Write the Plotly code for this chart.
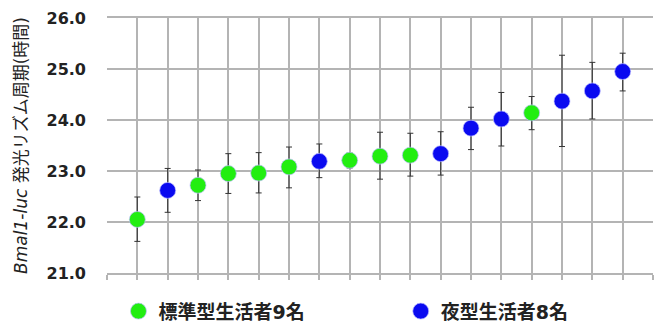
import plotly.graph_objects as go

# ---- data ----
rank = list(range(1, 18))
group = ["std", "night", "std", "std", "std", "std", "night", "std", "std",
         "std", "night", "night", "night", "std", "night", "night", "night"]
period = [22.05, 22.62, 22.72, 22.95, 22.96, 23.08, 23.19, 23.21, 23.29,
          23.31, 23.34, 23.84, 24.02, 24.14, 24.37, 24.57, 24.95]
err_plus = [0.44, 0.43, 0.30, 0.39, 0.40, 0.39, 0.34, 0.14, 0.47,
            0.43, 0.43, 0.41, 0.52, 0.32, 0.90, 0.56, 0.36]
err_minus = [0.43, 0.43, 0.30, 0.39, 0.39, 0.41, 0.32, 0.15, 0.45,
             0.41, 0.42, 0.42, 0.53, 0.33, 0.89, 0.55, 0.38]

groups = [("std", "標準型生活者9名", "#22ee11", "legend"),
          ("night", "夜型生活者8名", "#0a0af0", "legend2")]
y_ticks = [21.0, 22.0, 23.0, 24.0, 25.0, 26.0]

FONT = "DejaVu Sans, Noto Sans CJK JP"

fig = go.Figure()
for key, name, color, leg in groups:
    idx = [i for i, g in enumerate(group) if g == key]
    fig.add_trace(go.Scatter(
        x=[rank[i] for i in idx],
        y=[period[i] for i in idx],
        mode="markers",
        name=f"<b>{name}</b>",
        legend=leg,
        marker=dict(size=16, color=color, line=dict(color="rgba(190,190,255,0.7)", width=1)),
        error_y=dict(type="data", symmetric=False,
                     array=[err_plus[i] for i in idx],
                     arrayminus=[err_minus[i] for i in idx],
                     color="#333333", thickness=1, width=3),
    ))

leg_common = dict(orientation="h", y=-0.15, yanchor="middle",
                  font=dict(size=19, family=FONT, color="#222222"),
                  itemsizing="trace", bgcolor="rgba(0,0,0,0)")

fig.update_layout(
    width=656, height=327,
    margin=dict(l=107, r=3, t=18, b=54, autoexpand=False),
    paper_bgcolor="white", plot_bgcolor="white",
    font=dict(family=FONT, color="#222222"),
    showlegend=True,
    legend=dict(x=0.021, xanchor="left", **leg_common),
    legend2=dict(x=0.538, xanchor="left", **leg_common),
    xaxis=dict(range=[0, 18], dtick=1, tick0=0, showgrid=True, gridcolor="#b4b4b4",
               gridwidth=1.5, showticklabels=False, ticks="outside", ticklen=5,
               tickcolor="#b4b4b4", tickwidth=1.5, zeroline=False,
               showline=True, linecolor="#b4b4b4", linewidth=1.5, mirror=True),
    yaxis=dict(range=[21, 26], tickvals=y_ticks,
               ticktext=[f"<b>{v:.1f}</b>" for v in y_ticks],
               showgrid=True, gridcolor="#b4b4b4", gridwidth=1.5, zeroline=False,
               tickfont=dict(size=16, color="#222222"), ticks="", ticklabelstandoff=20,
               title=dict(text="<i>Bmal1-luc</i> 発光リズム周期(時間)",
                          font=dict(size=17, color="#222222"), standoff=14)),
)
fig.write_html("out.html")
